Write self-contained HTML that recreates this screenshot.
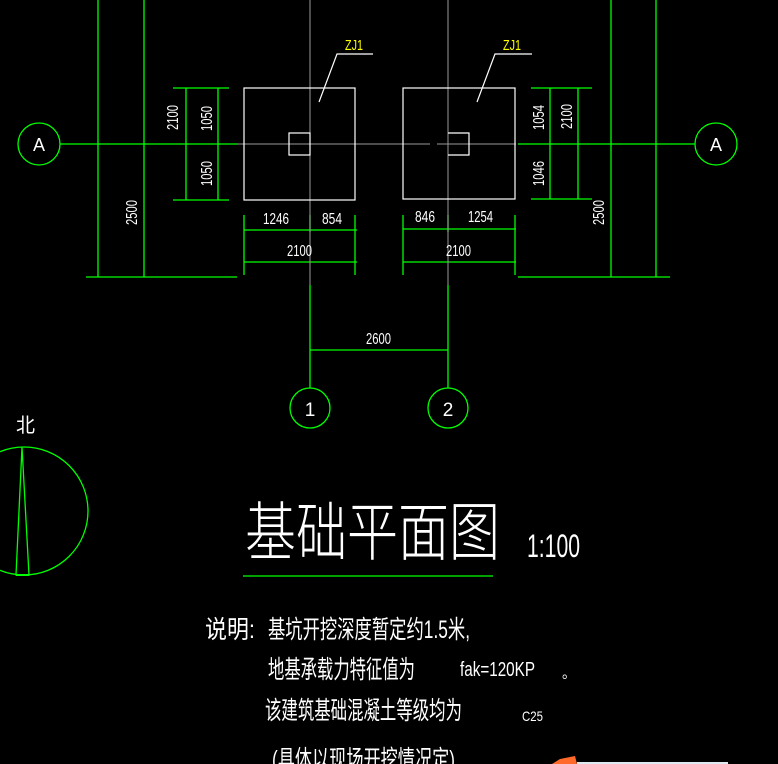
<!DOCTYPE html>
<html><head><meta charset="utf-8"><style>
html,body{margin:0;padding:0;background:#000;width:778px;height:764px;overflow:hidden}
svg{display:block}
text{font-family:"Liberation Sans","Noto Sans CJK SC",sans-serif;fill:#fff}
</style></head><body>
<svg width="778" height="764" viewBox="0 0 778 764" xmlns="http://www.w3.org/2000/svg">
<g stroke="#00ff00" stroke-width="1.3" fill="none">
<!-- left verticals -->
<line x1="98" y1="0" x2="98" y2="277"/><line x1="144" y1="0" x2="144" y2="277"/>
<line x1="86" y1="277" x2="237" y2="277"/>
<line x1="60" y1="144" x2="238" y2="144"/>
<circle cx="39" cy="144" r="21"/>
<line x1="186" y1="88" x2="186" y2="200"/><line x1="218" y1="88" x2="218" y2="200"/>
<line x1="173" y1="88" x2="229" y2="88"/><line x1="173" y1="200" x2="229" y2="200"/>
<!-- right -->
<line x1="611" y1="0" x2="611" y2="277"/><line x1="656" y1="0" x2="656" y2="277"/>
<line x1="518" y1="277" x2="670" y2="277"/>
<line x1="518" y1="144" x2="695" y2="144"/>
<circle cx="716" cy="144" r="21"/>
<line x1="550" y1="88" x2="550" y2="199"/><line x1="578" y1="88" x2="578" y2="199"/>
<line x1="531" y1="88" x2="592" y2="88"/><line x1="531" y1="199" x2="592" y2="199"/>
<!-- bottom dims -->
<line x1="244" y1="215" x2="244" y2="275"/><line x1="355" y1="215" x2="355" y2="275"/>
<line x1="310" y1="215" x2="310" y2="232"/>
<line x1="244" y1="230" x2="357" y2="230"/><line x1="244" y1="262" x2="357" y2="262"/>
<line x1="403" y1="215" x2="403" y2="275"/><line x1="515" y1="215" x2="515" y2="275"/>
<line x1="448" y1="215" x2="448" y2="232"/>
<line x1="403" y1="229" x2="516" y2="229"/><line x1="403" y1="262" x2="516" y2="262"/>
<line x1="310" y1="285" x2="310" y2="388"/><line x1="448" y1="285" x2="448" y2="388"/>
<line x1="310" y1="350" x2="448" y2="350"/>
<circle cx="310" cy="408" r="20"/><circle cx="448" cy="408" r="20"/>
<!-- compass -->
<circle cx="24" cy="511" r="64"/>
<polygon points="22,447 16,575 29,575"/>
<line x1="243" y1="576" x2="493" y2="576"/>
</g>
<line x1="16" y1="575" x2="29" y2="575" stroke="#00ff00" stroke-width="2"/>
<g stroke="#9a9a9a" stroke-width="1" fill="none">
<line x1="310" y1="0" x2="310" y2="285"/><line x1="238" y1="144" x2="390" y2="144"/>
<line x1="448" y1="0" x2="448" y2="285"/><line x1="390" y1="144" x2="430" y2="144"/><line x1="437" y1="144" x2="516" y2="144"/>
</g>
<g stroke="#fff" stroke-width="1.2" fill="none">
<rect x="244" y="88" width="111" height="112"/>
<rect x="289" y="133" width="21" height="22"/>
<rect x="403" y="88" width="112" height="111"/>
<polyline points="448,133 469,133 469,155 448,155"/>
<polyline points="319,102 337,54 373,54"/>
<polyline points="477,102 495,54 532,54"/>
</g>
<text x="345" y="50" font-size="15" fill="#ffff00" style="fill:#ffff00" textLength="18" lengthAdjust="spacingAndGlyphs">ZJ1</text>
<text x="503" y="50" font-size="15" style="fill:#ffff00" textLength="18" lengthAdjust="spacingAndGlyphs">ZJ1</text>
<g font-size="16">
<text x="39" y="151" text-anchor="middle" font-size="18">A</text>
<text x="716" y="151" text-anchor="middle" font-size="18">A</text>
<text x="263" y="224" textLength="26" lengthAdjust="spacingAndGlyphs">1246</text>
<text x="322" y="224" textLength="20" lengthAdjust="spacingAndGlyphs">854</text>
<text x="287" y="256" textLength="25" lengthAdjust="spacingAndGlyphs">2100</text>
<text x="415" y="222" textLength="20" lengthAdjust="spacingAndGlyphs">846</text>
<text x="468" y="222" textLength="25" lengthAdjust="spacingAndGlyphs">1254</text>
<text x="446" y="256" textLength="25" lengthAdjust="spacingAndGlyphs">2100</text>
<text x="366" y="344" textLength="25" lengthAdjust="spacingAndGlyphs">2600</text>
<text x="310" y="416" text-anchor="middle" font-size="19">1</text>
<text x="448" y="416" text-anchor="middle" font-size="19">2</text>
<text transform="translate(178,130) rotate(-90)" textLength="25" lengthAdjust="spacingAndGlyphs">2100</text>
<text transform="translate(212,131) rotate(-90)" textLength="25" lengthAdjust="spacingAndGlyphs">1050</text>
<text transform="translate(212,186) rotate(-90)" textLength="25" lengthAdjust="spacingAndGlyphs">1050</text>
<text transform="translate(137,225) rotate(-90)" textLength="25" lengthAdjust="spacingAndGlyphs">2500</text>
<text transform="translate(544,130) rotate(-90)" textLength="25" lengthAdjust="spacingAndGlyphs">1054</text>
<text transform="translate(572,129) rotate(-90)" textLength="25" lengthAdjust="spacingAndGlyphs">2100</text>
<text transform="translate(544,186) rotate(-90)" textLength="25" lengthAdjust="spacingAndGlyphs">1046</text>
<text transform="translate(604,225) rotate(-90)" textLength="25" lengthAdjust="spacingAndGlyphs">2500</text>
</g>
<text x="16" y="432" font-size="20" textLength="19" lengthAdjust="spacingAndGlyphs">北</text>
<text x="245" y="555" font-size="64" font-weight="100" textLength="255" lengthAdjust="spacingAndGlyphs" style="font-weight:200">基础平面图</text>
<text x="527" y="557" font-size="32" textLength="53" lengthAdjust="spacingAndGlyphs">1:100</text>
<g font-size="25">
<text x="205" y="638" textLength="50" lengthAdjust="spacingAndGlyphs">说明:</text>
<text x="268" y="638" textLength="202" lengthAdjust="spacingAndGlyphs">基坑开挖深度暂定约1.5米,</text>
<text x="268" y="678" textLength="147" lengthAdjust="spacingAndGlyphs">地基承载力特征值为</text>
<text x="460" y="676" font-size="20" textLength="75" lengthAdjust="spacingAndGlyphs">fak=120KP</text>
<text x="562" y="678" font-size="14">。</text>
<text x="265" y="719" textLength="197" lengthAdjust="spacingAndGlyphs">该建筑基础混凝土等级均为</text>
<text x="522" y="721" font-size="14" textLength="21" lengthAdjust="spacingAndGlyphs">C25</text>
<text x="272" y="768" textLength="183" lengthAdjust="spacingAndGlyphs">(具体以现场开挖情况定)</text>
</g>
<polygon points="552,764 560,759 575,756 577,764" fill="#ff6a2a"/>
<rect x="577" y="762" width="151" height="2" fill="#dde8f0"/>
</svg>
</body></html>
